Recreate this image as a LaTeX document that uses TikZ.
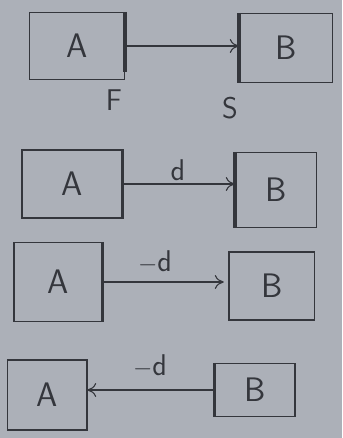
\documentclass[tikz,border=0pt]{standalone}
\usepackage{amsmath}
\usetikzlibrary{arrows.meta}
\definecolor{paper}{RGB}{172,176,184}
\definecolor{ink}{RGB}{52,54,60}

\begin{document}
\begin{tikzpicture}[x=1pt,y=-1pt,
        box/.style={draw=ink, line width=1.4pt, inner sep=0pt, font=\sffamily\fontsize{34}{38}\selectfont, text=ink},
        bar/.style={draw=ink, line width=3.5pt},
        halfbar/.style={draw=ink, line width=2.4pt},
        link/.style={draw=ink, line width=1.1pt, -{To[length=9pt,width=14pt]}},
        lbl/.style={text=ink, font=\sffamily\fontsize{30}{34}\selectfont}]
        % Draw paper
        \fill[paper] (0,0) rectangle (342,438);
        
        % Draw first pair
        \node[box, minimum width=95pt, minimum height=67pt] (a1) at (77,46) {A};
        \node[box, minimum width=93pt, minimum height=69pt] (b1) at (286,48) {B};
        \draw[bar] (a1.north east) -- ([yshift=8pt]a1.south east);
        \draw[bar] (b1.north west) -- (b1.south west);
        \draw[link] (a1.east) -- (a1.east -| b1.west);
        \node[lbl] (f) at (114,100) {F};
        \node[lbl] (s) at (230,108) {S};
        % Draw second pair
        \node[box, minimum width=100pt, minimum height=68pt] (a2) at (72,184) {A};
        \node[box, minimum width=81pt, minimum height=75pt] (b2) at (276,190) {B};
        \draw[bar] (a2.north east) -- (a2.south east);
        \draw[bar] (b2.north west) -- (b2.south west);
        \draw[link] (a2.east) -- (a2.east -| b2.west);
        \node[lbl] (d2) at (178,170) {d};
        % Draw third pair
        \node[box, minimum width=88pt, minimum height=79pt] (a3) at (58,282) {A};
        \node[box, minimum width=85pt, minimum height=68pt] (b3) at (272,286) {B};
        \draw[halfbar] (a3.north east) -- (a3.south east);
        \draw[halfbar] (b3.north west) -- (b3.south west);
        \draw[link, shorten >=5pt] (a3.east) -- (a3.east -| b3.west);
        \node[lbl] (d3) at (155,262) {$-$d};
        % Draw fourth pair
        \node[box, minimum width=79pt, minimum height=70pt] (a4) at (47,395) {A};
        \node[box, minimum width=80pt, minimum height=53pt] (b4) at (255,390) {B};
        \draw[halfbar] (a4.north east) -- (a4.south east);
        \draw[halfbar] (b4.north west) -- (b4.south west);
        \draw[link] (b4.west) -- (b4.west -| a4.east);
        \node[lbl] (d4) at (150,366) {$-$d};
\end{tikzpicture}
\end{document}
